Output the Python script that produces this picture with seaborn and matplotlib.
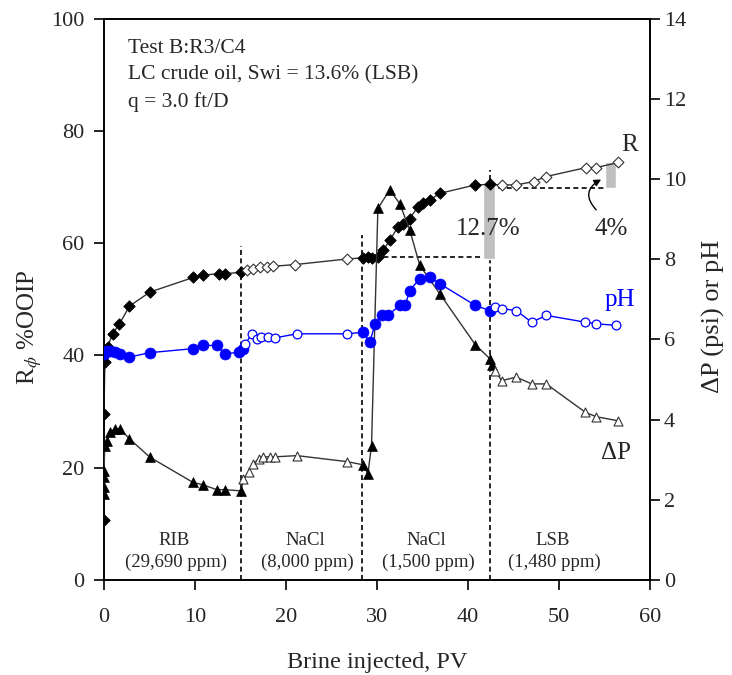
import numpy as np
import pandas as pd
import matplotlib
matplotlib.use("Agg")
import matplotlib.pyplot as plt
import seaborn as sns

# ---------------- data ----------------
# Oil recovery R (%OOIP), left axis
R_pv = [0, 0, 0.1, 0.4, 0.95, 1.7, 2.8, 5.05, 9.8, 10.9, 12.6, 13.3, 15.1,
        15.7, 16.4, 17.1, 17.9, 18.6, 21.0, 26.7,
        28.5, 29.0, 29.4, 30.1, 30.7, 31.4, 32.3, 32.9, 33.6, 34.5, 35.1, 35.8, 36.9, 40.8, 42.4,
        43.7, 45.3, 47.2, 48.6, 53.0, 54.1, 56.5]
R_val = [10.7, 29.6, 38.8, 41.5, 43.9, 45.6, 48.8, 51.3, 53.9, 54.3, 54.6, 54.6, 54.8,
         55.2, 55.5, 55.7, 55.8, 55.9, 56.2, 57.2,
         57.4, 57.5, 57.4, 57.6, 58.75, 60.5, 62.9, 63.5, 64.4, 66.5, 67.1, 67.7, 68.9, 70.4, 70.5,
         70.4, 70.4, 71.0, 71.9, 73.5, 73.5, 74.4]
R_open = [False] * 13 + [True] * 7 + [False] * 15 + [True] * 7

# pH, right axis
pH_pv = [0, 0.3, 0.66, 1.2, 1.76, 2.8, 5.05, 9.8, 10.9, 12.4, 13.3, 14.8, 15.3,
         15.5, 16.3, 16.8, 17.3, 18.0, 18.8, 21.2, 26.7,
         28.5, 29.2, 29.8, 30.5, 31.2, 32.5, 33.1, 33.6, 34.7, 35.8, 36.9, 40.8, 42.4,
         43.0, 43.7, 45.3, 47.0, 48.6, 52.9, 54.1, 56.3]
pH_val = [5.64, 5.7, 5.72, 5.68, 5.64, 5.56, 5.67, 5.77, 5.85, 5.85, 5.64, 5.68, 5.77,
          5.89, 6.14, 6.02, 6.07, 6.06, 6.04, 6.14, 6.14,
          6.18, 5.93, 6.39, 6.6, 6.6, 6.85, 6.85, 7.22, 7.52, 7.56, 7.39, 6.85, 6.72,
          6.81, 6.77, 6.72, 6.43, 6.6, 6.43, 6.39, 6.35]
pH_open = [False] * 13 + [True] * 8 + [False] * 13 + [True] * 8

# Pressure drop dP (psi), right axis
dp_pv = [0, 0, 0, 0, 0.1, 0.3, 0.66, 1.2, 1.76, 2.8, 5.05, 9.8, 10.9, 12.4, 13.3, 15.1,
         15.3, 15.9, 16.4, 17.0, 17.5, 18.2, 18.8, 21.2, 26.7,
         28.5, 29.0, 29.4, 30.1, 31.4, 32.5, 33.6, 34.7, 36.9, 40.8, 42.4, 42.6,
         43.0, 43.7, 45.3, 47.0, 48.6, 52.9, 54.1, 56.5]
dp_val = [2.14, 2.31, 2.56, 2.72, 3.35, 3.47, 3.68, 3.77, 3.77, 3.52, 3.06, 2.43, 2.37, 2.25, 2.25, 2.22,
          2.52, 2.68, 2.89, 3.02, 3.07, 3.07, 3.07, 3.1, 2.95,
          2.87, 2.64, 3.35, 9.27, 9.73, 9.39, 8.73, 7.85, 7.14, 5.87, 5.52, 5.35,
          5.22, 4.97, 5.06, 4.89, 4.89, 4.18, 4.07, 3.97]
dp_open = [False] * 16 + [True] * 9 + [False] * 12 + [True] * 8

# Brine-switch boundaries (PV) and heights of dashed lines (%OOIP)
boundary_pv = [15.1, 28.3, 42.4]
boundary_top = [59.6, 61.4, 73.0]

# Phase labels
phase_names = ["RIB", "NaCl", "NaCl", "LSB"]
phase_ppm = ["(29,690 ppm)", "(8,000 ppm)", "(1,500 ppm)", "(1,480 ppm)"]
phase_center = [7.7, 22.1, 35.4, 49.3]

# Incremental recovery bars
incr_pv = [42.3, 55.7]
incr_low = [57.2, 69.8]
incr_high = [70.7, 74.5]
incr_width = [1.3, 1.2]
incr_text = ["12.7%", "4%"]

# ---------------- style ----------------
sns.set_style("ticks")
plt.rcParams["font.family"] = ["Liberation Serif", "DejaVu Serif"]
plt.rcParams["mathtext.fontset"] = "stix"

fig = plt.figure(figsize=(7.32, 6.75), dpi=100)
ax = fig.add_axes([0.142, 0.141, 0.888 - 0.142, 0.972 - 0.141])
ax2 = ax.twinx()

# ---------------- recovery ----------------
dfR = pd.DataFrame({"pv": R_pv, "v": R_val, "open": R_open})
sns.lineplot(data=dfR, x="pv", y="v", sort=False, estimator=None, ax=ax,
             color="#333333", lw=1.0, zorder=3)
sns.scatterplot(data=dfR[~dfR.open], x="pv", y="v", marker="D", s=34,
                color="black", edgecolor="black", linewidth=0.6, ax=ax, zorder=4)
sns.scatterplot(data=dfR[dfR.open], x="pv", y="v", marker="D", s=30,
                facecolor="white", edgecolor="#333333", linewidth=0.8, ax=ax, zorder=4)

# dashed boundaries
for b, t in zip(boundary_pv, boundary_top):
    ax.plot([b, b], [0, t], color="black", lw=1.2, ls=(0, (3, 2)), zorder=2)
ax.plot([29.8, boundary_pv[2]], [57.6, 57.6], color="black", lw=1.2,
        ls=(0, (3, 2)), zorder=2)
ax.plot([boundary_pv[2], 55.1], [incr_low[1], incr_low[1]], color="black", lw=1.2,
        ls=(0, (3, 2)), zorder=2)

# grey incremental bars
ax.bar(incr_pv, np.array(incr_high) - np.array(incr_low), bottom=incr_low,
       width=incr_width, color="#bfbfbf", zorder=2.5)

ax.text(incr_pv[0] - 0.1, 62.6, incr_text[0], fontsize=18, ha="center", va="center", zorder=6)
ax.text(incr_pv[1], 62.6, incr_text[1], fontsize=18, ha="center", va="center", zorder=6)
ax.annotate("", xy=(54.9, 71.6), xytext=(54.3, 65.6),
            arrowprops=dict(arrowstyle="-|>", color="black", lw=1.0,
                            connectionstyle="arc3,rad=-0.7", mutation_scale=10))

# ---------------- right axis series ----------------
dfp = pd.DataFrame({"pv": pH_pv, "v": pH_val, "open": pH_open})
sns.lineplot(data=dfp, x="pv", y="v", sort=False, estimator=None, ax=ax2,
             color="blue", lw=1.0, zorder=3)
sns.scatterplot(data=dfp[~dfp.open], x="pv", y="v", marker="o", s=62,
                color="blue", edgecolor="blue", linewidth=0.5, ax=ax2, zorder=4)
sns.scatterplot(data=dfp[dfp.open], x="pv", y="v", marker="o", s=40,
                facecolor="white", edgecolor="blue", linewidth=0.9, ax=ax2, zorder=4)

dfd = pd.DataFrame({"pv": dp_pv, "v": dp_val, "open": dp_open})
sns.lineplot(data=dfd, x="pv", y="v", sort=False, estimator=None, ax=ax2,
             color="#333333", lw=1.0, zorder=3)
sns.scatterplot(data=dfd[~dfd.open], x="pv", y="v", marker="^", s=50,
                color="black", edgecolor="black", linewidth=0.5, ax=ax2, zorder=4)
sns.scatterplot(data=dfd[dfd.open], x="pv", y="v", marker="^", s=42,
                facecolor="white", edgecolor="#333333", linewidth=0.8, ax=ax2, zorder=4)

# ---------------- labels ----------------
ax.text(57.8, 77.5, "R", fontsize=18, ha="center", va="center")
ax.text(56.7, 49.8, "pH", fontsize=18, ha="center", va="center", color="blue")
ax.text(56.3, 22.6, "ΔP", fontsize=18, ha="center", va="center")

for name, ppm, c in zip(phase_names, phase_ppm, phase_center):
    ax.text(c, 7.0, name, fontsize=13.5, ha="center", va="center")
    ax.text(c + 0.2, 3.1, ppm, fontsize=13.5, ha="center", va="center")

ax.text(0.044, 0.948, "Test B:R3/C4", transform=ax.transAxes, fontsize=15.5, va="center")
ax.text(0.044, 0.900, "LC crude oil, Swi = 13.6% (LSB)", transform=ax.transAxes,
        fontsize=15.5, va="center")
ax.text(0.044, 0.852, "q = 3.0 ft/D", transform=ax.transAxes, fontsize=15.5, va="center")

# ---------------- axes ----------------
ax.set_xlim(0, 60)
ax.set_ylim(0, 100)
ax2.set_ylim(0, 14)
ax.set_xticks(range(0, 61, 10))
ax.set_yticks(range(0, 101, 20))
ax2.set_yticks(range(0, 15, 2))
for a in (ax, ax2):
    for lab in a.get_xticklabels() + a.get_yticklabels():
        lab.set_fontsize(16)
    for sp in a.spines.values():
        sp.set_visible(True)
        sp.set_linewidth(1.2)
        sp.set_color("black")
ax.tick_params(axis="y", direction="out", length=7, width=1.2, color="black", pad=7)
ax.tick_params(axis="x", direction="out", length=7, width=1.2, color="black", pad=13)
ax2.tick_params(axis="y", direction="out", length=7, width=1.2, color="black", pad=3)

ax.set_xlabel("Brine injected, PV", fontsize=17.5)
ax.xaxis.set_label_coords(0.5, -0.128)
ax.set_ylabel(r"R$_{\phi}$ %OOIP", fontsize=18)
ax.yaxis.set_label_coords(-0.11, 0.45)
ax2.set_ylabel("ΔP (psi) or pH", fontsize=19)
ax2.yaxis.set_label_coords(1.095, 0.47)

fig.savefig("out.png", dpi=100)
